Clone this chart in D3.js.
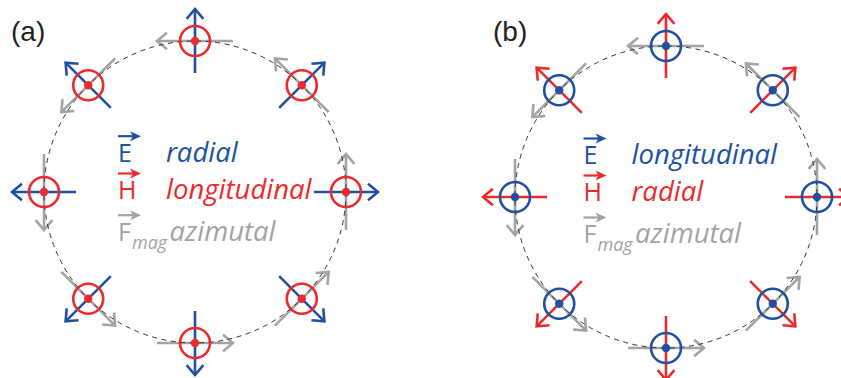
<!DOCTYPE html>
<html>
<head>
<meta charset="utf-8">
<script src="https://cdn.jsdelivr.net/npm/d3@7"></script>
<style>
  html, body { margin: 0; padding: 0; background: #fff; }
  svg { display: block; }
</style>
</head>
<body>
<svg id="chart" width="841" height="378"></svg>
<script>
// ---- data ----
const panelLabels = ["(a)", "(b)"];
const angles = [90, 45, 0, -45, -90, -135, 180, 135];   // positions around the ring (deg)
const fieldSymbols = ["E", "H", "F"];
const fieldSubscripts = ["", "", "mag"];
const legendWordsA = ["radial", "longitudinal", "azimutal"];
const legendWordsB = ["longitudinal", "radial", "azimutal"];
const radialFieldA = "E";   // which field is radial in panel (a)
const radialFieldB = "H";   // which field is radial in panel (b)

// ---- style ----
const BLUE = "#2150a3", RED = "#ec2a2c", GRAY = "#a3a3a3", DASH = "#333";
const fieldColor = { E: BLUE, H: RED, F: GRAY };

const svg = d3.select("#chart");

const panels = [
  { label: panelLabels[0], cx: 195, cy: 192, labelX: 11, words: legendWordsA, radial: radialFieldA,
    legX: 118, wordX: 166, rows: [161.7, 199, 240.7] },
  { label: panelLabels[1], cx: 666, cy: 197, labelX: 493, words: legendWordsB, radial: radialFieldB,
    legX: 583.5, wordX: 631.5, rows: [164, 201, 243] }
];

const R = 151, radLen = 32, tanLen = 38, markR = 15, dotR = 4.2;
const headLen = 13, headAng = 40 * Math.PI / 180;

function chevron(g, tip, dir, color) {
  const [dx, dy] = dir;
  const pts = [-1, 1].map(s => {
    const c = Math.cos(s * headAng), sn = Math.sin(s * headAng);
    const rx = dx * c - dy * sn, ry = dx * sn + dy * c;
    return [tip[0] - headLen * rx, tip[1] - headLen * ry];
  });
  g.append("path")
    .attr("d", d3.line()([pts[0], tip, pts[1]]))
    .attr("fill", "none").attr("stroke", color).attr("stroke-width", 2.6)
    .attr("stroke-linejoin", "miter").attr("stroke-linecap", "butt");
}

panels.forEach(p => {
  const g = svg.append("g");
  const x = d3.scaleLinear().domain([-1, 1]).range([p.cx - R, p.cx + R]);
  const y = d3.scaleLinear().domain([-1, 1]).range([p.cy + R, p.cy - R]);
  const radialColor = fieldColor[p.radial];
  const longColor = p.radial === "E" ? RED : BLUE;

  // panel label
  g.append("text").attr("x", p.labelX).attr("y", 41)
    .attr("font-family", "Liberation Sans, Arial, sans-serif")
    .attr("font-size", 28).attr("fill", "#231f20").text(p.label);

  const pts = angles.map(a => {
    const t = a * Math.PI / 180;
    return { px: x(Math.cos(t)), py: y(Math.sin(t)),
             u: [Math.cos(t), -Math.sin(t)],          // radial outward (screen)
             tv: [-Math.sin(t), -Math.cos(t)] };      // counter-clockwise tangent (screen)
  });

  // radial arrows
  pts.forEach(d => {
    const a = [d.px - radLen * d.u[0], d.py - radLen * d.u[1]];
    const b = [d.px + radLen * d.u[0], d.py + radLen * d.u[1]];
    g.append("line").attr("x1", a[0]).attr("y1", a[1]).attr("x2", b[0]).attr("y2", b[1])
      .attr("stroke", radialColor).attr("stroke-width", 2.6);
    chevron(g, b, d.u, radialColor);
  });

  // azimuthal force arrows
  pts.forEach(d => {
    const a = [d.px - tanLen * d.tv[0], d.py - tanLen * d.tv[1]];
    const b = [d.px + tanLen * d.tv[0], d.py + tanLen * d.tv[1]];
    g.append("line").attr("x1", a[0]).attr("y1", a[1]).attr("x2", b[0]).attr("y2", b[1])
      .attr("stroke", GRAY).attr("stroke-width", 2.6);
    chevron(g, b, d.tv, GRAY);
  });

  // dashed ring
  g.append("ellipse").attr("cx", x(0)).attr("cy", y(0))
    .attr("rx", x(1) - x(0)).attr("ry", y(0) - y(1))
    .attr("fill", "none").attr("stroke", DASH).attr("stroke-width", 1)
    .attr("stroke-dasharray", "5,4.5");

  // longitudinal (out of plane) markers
  g.selectAll("circle.mark").data(pts).enter().append("circle")
    .attr("class", "mark").attr("cx", d => d.px).attr("cy", d => d.py).attr("r", markR)
    .attr("fill", "none").attr("stroke", longColor).attr("stroke-width", 2.6);
  g.selectAll("circle.dot").data(pts).enter().append("circle")
    .attr("class", "dot").attr("cx", d => d.px).attr("cy", d => d.py).attr("r", dotR)
    .attr("fill", longColor);

  // legend
  fieldSymbols.forEach((s, i) => {
    const col = fieldColor[s];
    const base = p.rows[i];
    const ax0 = p.legX, ax1 = p.legX + 23, ay = base - 25.5;
    g.append("line").attr("x1", ax0).attr("y1", ay).attr("x2", ax1 - 6).attr("y2", ay)
      .attr("stroke", col).attr("stroke-width", 2.2);
    g.append("path")
      .attr("d", d3.line()([[ax1, ay], [ax1 - 11, ay - 5], [ax1 - 8, ay], [ax1 - 11, ay + 5]]) + "Z")
      .attr("fill", col);
    g.append("text").attr("x", p.legX).attr("y", base)
      .attr("font-family", "Open Sans, sans-serif").attr("font-size", 25)
      .attr("fill", col).text(s);
    if (fieldSubscripts[i]) {
      g.append("text").attr("x", p.legX + 14).attr("y", base + 8)
        .attr("font-family", "Open Sans, sans-serif").attr("font-style", "italic")
        .attr("font-size", 18).attr("fill", col).text(fieldSubscripts[i]);
    }
    const w = p.words[i];
    const wc = i === 2 ? GRAY : (w === "radial" ? radialColor : longColor);
    g.append("text").attr("x", p.wordX + (i === 2 ? 3.5 : 0)).attr("y", base)
      .attr("font-family", "Open Sans, sans-serif").attr("font-style", "italic")
      .attr("font-size", 27.5).attr("fill", wc).text(w);
  });
});
</script>
</body>
</html>
